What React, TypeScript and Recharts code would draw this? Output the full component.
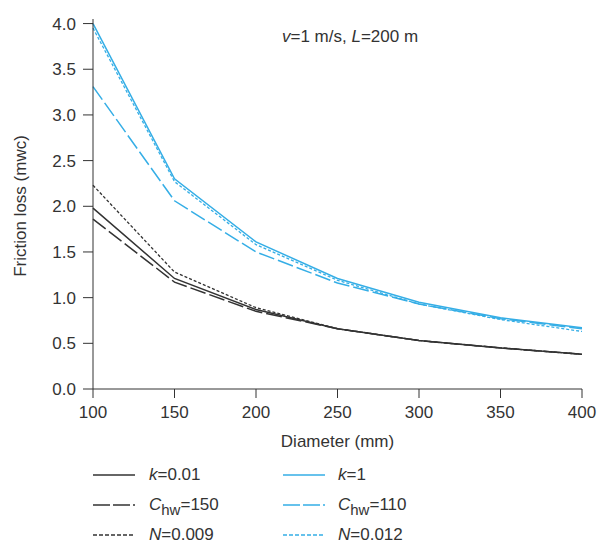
import { LineChart, Line, XAxis, YAxis } from "recharts";

const diameters = [100, 150, 200, 250, 300, 350, 400];
const kSmooth = [1.98, 1.21, 0.87, 0.66, 0.53, 0.45, 0.38];
const chw150 = [1.86, 1.17, 0.85, 0.66, 0.53, 0.45, 0.38];
const n009 = [2.23, 1.28, 0.89, 0.66, 0.53, 0.45, 0.38];
const kRough = [4.0, 2.3, 1.61, 1.21, 0.95, 0.78, 0.67];
const chw110 = [3.31, 2.06, 1.5, 1.16, 0.93, 0.77, 0.66];
const n012 = [3.95, 2.27, 1.58, 1.19, 0.93, 0.76, 0.63];

const xTicks = [100, 150, 200, 250, 300, 350, 400];
const yTicks = [0, 0.5, 1, 1.5, 2, 2.5, 3, 3.5, 4];

const BLACK = "#333333";
const BLUE = "#35aee6";
const FONT = "'Liberation Sans', Arial, sans-serif";

const data = diameters.map((d, i) => ({
  d,
  kSmooth: kSmooth[i],
  chw150: chw150[i],
  n009: n009[i],
  kRough: kRough[i],
  chw110: chw110[i],
  n012: n012[i],
}));

const SOLID = undefined;
const LONG_DASH = "16 4";
const DOTTED = "3 2";

function LegendLine({ color, dash }: { color: string; dash?: string }) {
  return (
    <svg width={44} height={6} style={{ display: "block" }}>
      <line x1={0} y1={3} x2={42} y2={3} stroke={color} strokeWidth={1.5} strokeDasharray={dash} />
    </svg>
  );
}

function Chw({ value }: { value: string }) {
  return (
    <span>
      <i>C</i>
      <span style={{ fontSize: 15, position: "relative", top: 5 }}>hw</span>={value}
    </span>
  );
}

const legendRows = [
  { y: 475, left: { color: BLACK, dash: SOLID, label: <span><i>k</i>=0.01</span> }, right: { color: BLUE, dash: SOLID, label: <span><i>k</i>=1</span> } },
  { y: 505, left: { color: BLACK, dash: "17 3 17 3 2", label: <Chw value="150" /> }, right: { color: BLUE, dash: "17 3 17 3 2", label: <Chw value="110" /> } },
  { y: 535, left: { color: BLACK, dash: "4 2", label: <span><i>N</i>=0.009</span> }, right: { color: BLUE, dash: "4 2", label: <span><i>N</i>=0.012</span> } },
];

export default function App() {
  return (
    <div
      style={{
        position: "absolute",
        left: 0,
        top: 0,
        width: 598,
        height: 544,
        background: "#fff",
        fontFamily: FONT,
        color: BLACK,
      }}
    >
      <LineChart width={598} height={544} data={data} margin={{ top: 19, right: 16, bottom: 95, left: 0 }}>
        <XAxis
          dataKey="d"
          type="number"
          domain={[100, 400]}
          ticks={xTicks}
          height={60}
          tickSize={9}
          tickMargin={8}
          stroke={BLACK}
          tick={{ fill: BLACK, fontSize: 17, fontFamily: FONT }}
          label={{ value: "Diameter (mm)", position: "insideBottom", offset: 2, fill: BLACK, fontSize: 17, fontFamily: FONT }}
        />
        <YAxis
          type="number"
          domain={[0, 4.05]}
          ticks={yTicks}
          width={93}
          tickSize={10}
          tickMargin={7}
          stroke={BLACK}
          tickFormatter={(v: number) => v.toFixed(1)}
          tick={{ fill: BLACK, fontSize: 17, fontFamily: FONT }}
        />
        <Line dataKey="kSmooth" stroke={BLACK} strokeWidth={1.5} dot={false} isAnimationActive={false} />
        <Line dataKey="chw150" stroke={BLACK} strokeWidth={1.5} strokeDasharray={LONG_DASH} dot={false} isAnimationActive={false} />
        <Line dataKey="n009" stroke={BLACK} strokeWidth={1.3} strokeDasharray={DOTTED} dot={false} isAnimationActive={false} />
        <Line dataKey="kRough" stroke={BLUE} strokeWidth={1.5} dot={false} isAnimationActive={false} />
        <Line dataKey="chw110" stroke={BLUE} strokeWidth={1.5} strokeDasharray={LONG_DASH} dot={false} isAnimationActive={false} />
        <Line dataKey="n012" stroke={BLUE} strokeWidth={1.3} strokeDasharray={DOTTED} dot={false} isAnimationActive={false} />
      </LineChart>

      {/* y axis title */}
      <div
        style={{
          position: "absolute",
          left: 21,
          top: 206,
          transform: "translate(-50%, -50%) rotate(-90deg)",
          whiteSpace: "nowrap",
          fontSize: 17,
        }}
      >
        Friction loss (mwc)
      </div>

      {/* condition note */}
      <div style={{ position: "absolute", left: 282, top: 27, fontSize: 17, whiteSpace: "nowrap" }}>
        <i>v</i>=1 m/s, <i>L</i>=200 m
      </div>

      {legendRows.map((row, i) => (
        <div key={i}>
          <div style={{ position: "absolute", left: 93, top: row.y - 3 }}>
            <LegendLine color={row.left.color} dash={row.left.dash} />
          </div>
          <div style={{ position: "absolute", left: 149, top: row.y - 10, fontSize: 17, whiteSpace: "nowrap", lineHeight: "20px" }}>
            {row.left.label}
          </div>
          <div style={{ position: "absolute", left: 283, top: row.y - 3 }}>
            <LegendLine color={row.right.color} dash={row.right.dash} />
          </div>
          <div style={{ position: "absolute", left: 338, top: row.y - 10, fontSize: 17, whiteSpace: "nowrap", lineHeight: "20px" }}>
            {row.right.label}
          </div>
        </div>
      ))}
    </div>
  );
}
